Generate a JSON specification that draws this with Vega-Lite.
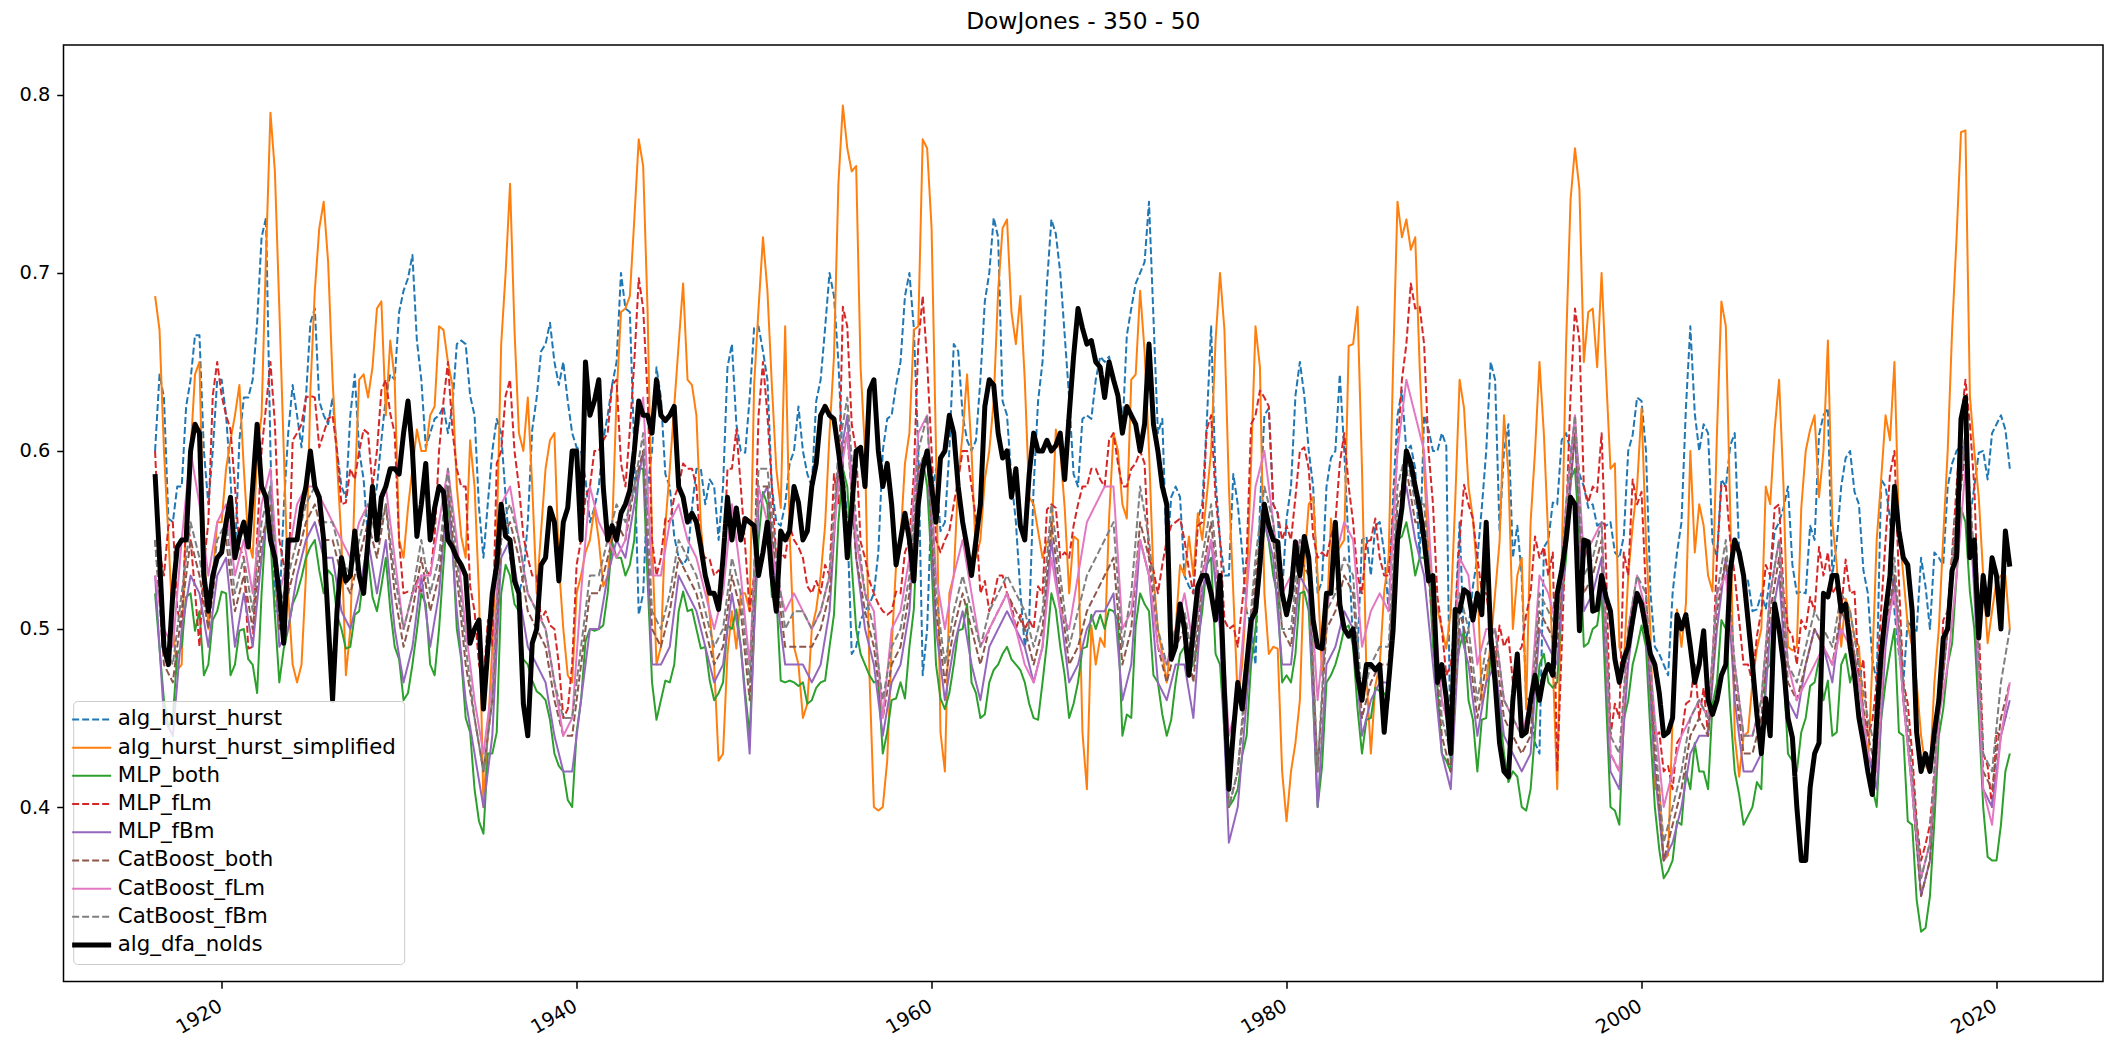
{
"$schema":"https://vega.github.io/schema/vega-lite/v6.json",
"width":2039.5,"height":936.5,
"autosize":{"type":"none"},
"padding":{"left":63.5,"top":45,"right":15,"bottom":65.5},
"background":"white",
"title":{"text":"DowJones - 350 - 50","fontSize":23.3,"font":"DejaVu Sans","fontWeight":"normal","color":"#000","offset":11,"anchor":"middle"},
"config":{"view":{"stroke":"#000","strokeWidth":1.5},"font":"DejaVu Sans"},
"data":{"values":[
{"t":1916.25,"a":0.6,"b":0.687,"c":0.52,"d":0.6,"e":0.53,"f":0.55,"g":0.53,"h":0.55,"k":0.587},
{"t":1916.75,"a":0.63,"b":0.6,"c":0.46,"d":0.53,"e":0.45,"f":0.48,"g":0.5,"h":0.49,"k":0.49},
{"t":1917.25,"a":0.56,"b":0.5,"c":0.45,"d":0.56,"e":0.44,"f":0.47,"g":0.49,"h":0.48,"k":0.52},
{"t":1917.75,"a":0.58,"b":0.48,"c":0.49,"d":0.5,"e":0.5,"f":0.51,"g":0.55,"h":0.52,"k":0.55},
{"t":1918.25,"a":0.64,"b":0.6,"c":0.52,"d":0.55,"e":0.53,"f":0.55,"g":0.6,"h":0.56,"k":0.6},
{"t":1918.75,"a":0.665,"b":0.65,"c":0.51,"d":0.49,"e":0.52,"f":0.53,"g":0.57,"h":0.54,"k":0.61},
{"t":1919.25,"a":0.57,"b":0.5,"c":0.48,"d":0.56,"e":0.49,"f":0.5,"g":0.53,"h":0.51,"k":0.51},
{"t":1919.75,"a":0.64,"b":0.56,"c":0.51,"d":0.65,"e":0.53,"f":0.54,"g":0.56,"h":0.55,"k":0.54},
{"t":1920.25,"a":0.62,"b":0.59,"c":0.52,"d":0.62,"e":0.54,"f":0.55,"g":0.57,"h":0.56,"k":0.56},
{"t":1920.75,"a":0.54,"b":0.62,"c":0.48,"d":0.58,"e":0.49,"f":0.51,"g":0.53,"h":0.52,"k":0.54},
{"t":1921.25,"a":0.63,"b":0.59,"c":0.5,"d":0.54,"e":0.52,"f":0.53,"g":0.55,"h":0.54,"k":0.56},
{"t":1921.75,"a":0.64,"b":0.54,"c":0.48,"d":0.49,"e":0.49,"f":0.5,"g":0.52,"h":0.51,"k":0.58},
{"t":1922.25,"a":0.72,"b":0.62,"c":0.52,"d":0.6,"e":0.54,"f":0.55,"g":0.57,"h":0.56,"k":0.58},
{"t":1922.75,"a":0.6,"b":0.79,"c":0.55,"d":0.65,"e":0.58,"f":0.57,"g":0.59,"h":0.58,"k":0.55},
{"t":1923.25,"a":0.51,"b":0.68,"c":0.47,"d":0.55,"e":0.49,"f":0.5,"g":0.52,"h":0.51,"k":0.52},
{"t":1923.75,"a":0.61,"b":0.52,"c":0.5,"d":0.52,"e":0.5,"f":0.52,"g":0.54,"h":0.53,"k":0.55},
{"t":1924.25,"a":0.62,"b":0.47,"c":0.52,"d":0.61,"e":0.53,"f":0.54,"g":0.57,"h":0.55,"k":0.55},
{"t":1924.75,"a":0.63,"b":0.53,"c":0.54,"d":0.63,"e":0.55,"f":0.56,"g":0.58,"h":0.57,"k":0.58},
{"t":1925.25,"a":0.68,"b":0.69,"c":0.55,"d":0.63,"e":0.56,"f":0.57,"g":0.58,"h":0.58,"k":0.58},
{"t":1925.75,"a":0.62,"b":0.74,"c":0.52,"d":0.61,"e":0.54,"f":0.55,"g":0.57,"h":0.56,"k":0.55},
{"t":1926.25,"a":0.63,"b":0.64,"c":0.53,"d":0.62,"e":0.54,"f":0.55,"g":0.56,"h":0.56,"k":0.46},
{"t":1926.75,"a":0.58,"b":0.55,"c":0.5,"d":0.57,"e":0.51,"f":0.53,"g":0.55,"h":0.54,"k":0.54},
{"t":1927.25,"a":0.62,"b":0.5,"c":0.49,"d":0.59,"e":0.5,"f":0.52,"g":0.54,"h":0.53,"k":0.53},
{"t":1927.75,"a":0.6,"b":0.64,"c":0.51,"d":0.6,"e":0.52,"f":0.54,"g":0.56,"h":0.55,"k":0.53},
{"t":1928.25,"a":0.55,"b":0.63,"c":0.54,"d":0.61,"e":0.55,"f":0.56,"g":0.57,"h":0.57,"k":0.55},
{"t":1928.75,"a":0.58,"b":0.68,"c":0.51,"d":0.6,"e":0.52,"f":0.54,"g":0.56,"h":0.55,"k":0.55},
{"t":1929.25,"a":0.63,"b":0.62,"c":0.54,"d":0.64,"e":0.55,"f":0.57,"g":0.58,"h":0.57,"k":0.58},
{"t":1929.75,"a":0.64,"b":0.64,"c":0.49,"d":0.61,"e":0.5,"f":0.52,"g":0.54,"h":0.53,"k":0.59},
{"t":1930.25,"a":0.69,"b":0.54,"c":0.46,"d":0.52,"e":0.47,"f":0.49,"g":0.5,"h":0.5,"k":0.61},
{"t":1930.75,"a":0.71,"b":0.59,"c":0.48,"d":0.52,"e":0.49,"f":0.51,"g":0.52,"h":0.52,"k":0.6},
{"t":1931.25,"a":0.64,"b":0.6,"c":0.52,"d":0.52,"e":0.53,"f":0.54,"g":0.53,"h":0.55,"k":0.57},
{"t":1931.75,"a":0.61,"b":0.62,"c":0.48,"d":0.53,"e":0.49,"f":0.51,"g":0.53,"h":0.52,"k":0.55},
{"t":1932.25,"a":0.62,"b":0.67,"c":0.5,"d":0.6,"e":0.52,"f":0.53,"g":0.56,"h":0.54,"k":0.58},
{"t":1932.75,"a":0.61,"b":0.65,"c":0.57,"d":0.65,"e":0.58,"f":0.58,"g":0.59,"h":0.59,"k":0.55},
{"t":1933.25,"a":0.66,"b":0.58,"c":0.5,"d":0.59,"e":0.51,"f":0.53,"g":0.55,"h":0.54,"k":0.54},
{"t":1933.75,"a":0.66,"b":0.54,"c":0.45,"d":0.58,"e":0.46,"f":0.48,"g":0.5,"h":0.49,"k":0.53},
{"t":1934.25,"a":0.62,"b":0.58,"c":0.41,"d":0.51,"e":0.43,"f":0.45,"g":0.46,"h":0.45,"k":0.5},
{"t":1934.75,"a":0.54,"b":0.4,"c":0.385,"d":0.47,"e":0.4,"f":0.42,"g":0.43,"h":0.42,"k":0.455},
{"t":1935.25,"a":0.6,"b":0.49,"c":0.43,"d":0.49,"e":0.44,"f":0.46,"g":0.47,"h":0.46,"k":0.52},
{"t":1935.75,"a":0.61,"b":0.66,"c":0.52,"d":0.6,"e":0.54,"f":0.55,"g":0.57,"h":0.56,"k":0.57},
{"t":1936.25,"a":0.54,"b":0.75,"c":0.53,"d":0.64,"e":0.55,"f":0.56,"g":0.58,"h":0.57,"k":0.55},
{"t":1936.75,"a":0.52,"b":0.61,"c":0.51,"d":0.58,"e":0.52,"f":0.54,"g":0.55,"h":0.55,"k":0.52},
{"t":1937.25,"a":0.56,"b":0.63,"c":0.48,"d":0.54,"e":0.49,"f":0.51,"g":0.52,"h":0.52,"k":0.44},
{"t":1937.75,"a":0.63,"b":0.52,"c":0.465,"d":0.53,"e":0.48,"f":0.5,"g":0.51,"h":0.51,"k":0.5},
{"t":1938.25,"a":0.66,"b":0.59,"c":0.46,"d":0.51,"e":0.47,"f":0.49,"g":0.5,"h":0.5,"k":0.54},
{"t":1938.75,"a":0.65,"b":0.61,"c":0.43,"d":0.5,"e":0.44,"f":0.46,"g":0.47,"h":0.47,"k":0.56},
{"t":1939.25,"a":0.65,"b":0.5,"c":0.42,"d":0.45,"e":0.42,"f":0.44,"g":0.44,"h":0.45,"k":0.56},
{"t":1939.75,"a":0.61,"b":0.47,"c":0.4,"d":0.48,"e":0.42,"f":0.44,"g":0.45,"h":0.45,"k":0.6},
{"t":1940.25,"a":0.6,"b":0.53,"c":0.46,"d":0.55,"e":0.46,"f":0.48,"g":0.52,"h":0.49,"k":0.55},
{"t":1940.75,"a":0.56,"b":0.55,"c":0.5,"d":0.58,"e":0.5,"f":0.52,"g":0.58,"h":0.53,"k":0.62},
{"t":1941.25,"a":0.58,"b":0.55,"c":0.5,"d":0.6,"e":0.5,"f":0.52,"g":0.56,"h":0.53,"k":0.64},
{"t":1941.75,"a":0.62,"b":0.53,"c":0.52,"d":0.61,"e":0.53,"f":0.54,"g":0.55,"h":0.55,"k":0.55},
{"t":1942.25,"a":0.65,"b":0.63,"c":0.54,"d":0.64,"e":0.55,"f":0.56,"g":0.54,"h":0.57,"k":0.55},
{"t":1942.75,"a":0.68,"b":0.68,"c":0.53,"d":0.58,"e":0.54,"f":0.55,"g":0.55,"h":0.56,"k":0.57},
{"t":1943.25,"a":0.6,"b":0.73,"c":0.55,"d":0.65,"e":0.57,"f":0.58,"g":0.6,"h":0.58,"k":0.6},
{"t":1943.75,"a":0.52,"b":0.76,"c":0.59,"d":0.68,"e":0.6,"f":0.6,"g":0.63,"h":0.61,"k":0.62},
{"t":1944.25,"a":0.6,"b":0.55,"c":0.47,"d":0.55,"e":0.48,"f":0.5,"g":0.53,"h":0.51,"k":0.61},
{"t":1944.75,"a":0.63,"b":0.49,"c":0.46,"d":0.54,"e":0.48,"f":0.49,"g":0.53,"h":0.5,"k":0.62},
{"t":1945.25,"a":0.58,"b":0.59,"c":0.47,"d":0.56,"e":0.49,"f":0.51,"g":0.56,"h":0.52,"k":0.62},
{"t":1945.75,"a":0.54,"b":0.66,"c":0.51,"d":0.58,"e":0.53,"f":0.54,"g":0.57,"h":0.55,"k":0.58},
{"t":1946.25,"a":0.54,"b":0.64,"c":0.51,"d":0.59,"e":0.52,"f":0.53,"g":0.55,"h":0.54,"k":0.56},
{"t":1946.75,"a":0.59,"b":0.62,"c":0.5,"d":0.58,"e":0.51,"f":0.52,"g":0.54,"h":0.53,"k":0.56},
{"t":1947.25,"a":0.57,"b":0.53,"c":0.49,"d":0.54,"e":0.49,"f":0.5,"g":0.52,"h":0.51,"k":0.53},
{"t":1947.75,"a":0.58,"b":0.48,"c":0.46,"d":0.53,"e":0.47,"f":0.48,"g":0.5,"h":0.49,"k":0.52},
{"t":1948.25,"a":0.58,"b":0.43,"c":0.47,"d":0.53,"e":0.48,"f":0.49,"g":0.52,"h":0.5,"k":0.54},
{"t":1948.75,"a":0.66,"b":0.51,"c":0.5,"d":0.59,"e":0.52,"f":0.53,"g":0.57,"h":0.54,"k":0.55},
{"t":1949.25,"a":0.6,"b":0.52,"c":0.49,"d":0.58,"e":0.49,"f":0.51,"g":0.53,"h":0.52,"k":0.55},
{"t":1949.75,"a":0.63,"b":0.51,"c":0.44,"d":0.51,"e":0.43,"f":0.46,"g":0.48,"h":0.47,"k":0.56},
{"t":1950.25,"a":0.67,"b":0.68,"c":0.55,"d":0.62,"e":0.57,"f":0.58,"g":0.58,"h":0.59,"k":0.53},
{"t":1950.75,"a":0.64,"b":0.69,"c":0.57,"d":0.62,"e":0.58,"f":0.58,"g":0.56,"h":0.59,"k":0.56},
{"t":1951.25,"a":0.56,"b":0.59,"c":0.52,"d":0.54,"e":0.52,"f":0.53,"g":0.53,"h":0.54,"k":0.51},
{"t":1951.75,"a":0.57,"b":0.67,"c":0.47,"d":0.54,"e":0.48,"f":0.49,"g":0.51,"h":0.5,"k":0.55},
{"t":1952.25,"a":0.6,"b":0.49,"c":0.47,"d":0.55,"e":0.48,"f":0.49,"g":0.52,"h":0.51,"k":0.58},
{"t":1952.75,"a":0.6,"b":0.45,"c":0.47,"d":0.54,"e":0.48,"f":0.49,"g":0.51,"h":0.51,"k":0.55},
{"t":1953.25,"a":0.58,"b":0.5,"c":0.46,"d":0.52,"e":0.47,"f":0.49,"g":0.5,"h":0.5,"k":0.58},
{"t":1953.75,"a":0.64,"b":0.53,"c":0.47,"d":0.52,"e":0.48,"f":0.5,"g":0.51,"h":0.51,"k":0.62},
{"t":1954.25,"a":0.7,"b":0.61,"c":0.49,"d":0.53,"e":0.51,"f":0.52,"g":0.53,"h":0.53,"k":0.62},
{"t":1954.75,"a":0.65,"b":0.75,"c":0.56,"d":0.57,"e":0.59,"f":0.59,"g":0.58,"h":0.6,"k":0.6},
{"t":1955.25,"a":0.56,"b":0.77,"c":0.58,"d":0.67,"e":0.62,"f":0.61,"g":0.61,"h":0.63,"k":0.54},
{"t":1955.75,"a":0.49,"b":0.76,"c":0.5,"d":0.6,"e":0.54,"f":0.54,"g":0.55,"h":0.56,"k":0.6},
{"t":1956.25,"a":0.51,"b":0.6,"c":0.48,"d":0.54,"e":0.5,"f":0.51,"g":0.52,"h":0.52,"k":0.58},
{"t":1956.75,"a":0.52,"b":0.4,"c":0.47,"d":0.52,"e":0.48,"f":0.49,"g":0.51,"h":0.5,"k":0.64},
{"t":1957.25,"a":0.6,"b":0.4,"c":0.43,"d":0.51,"e":0.44,"f":0.45,"g":0.45,"h":0.46,"k":0.58},
{"t":1957.75,"a":0.62,"b":0.49,"c":0.46,"d":0.51,"e":0.47,"f":0.48,"g":0.5,"h":0.49,"k":0.57},
{"t":1958.25,"a":0.65,"b":0.55,"c":0.47,"d":0.52,"e":0.48,"f":0.49,"g":0.51,"h":0.5,"k":0.55},
{"t":1958.75,"a":0.7,"b":0.61,"c":0.49,"d":0.55,"e":0.51,"f":0.52,"g":0.54,"h":0.53,"k":0.55},
{"t":1959.25,"a":0.6,"b":0.67,"c":0.57,"d":0.66,"e":0.59,"f":0.59,"g":0.61,"h":0.6,"k":0.57},
{"t":1959.75,"a":0.5,"b":0.77,"c":0.58,"d":0.65,"e":0.6,"f":0.6,"g":0.62,"h":0.62,"k":0.6},
{"t":1960.25,"a":0.59,"b":0.6,"c":0.48,"d":0.55,"e":0.5,"f":0.51,"g":0.53,"h":0.52,"k":0.56},
{"t":1960.75,"a":0.56,"b":0.42,"c":0.455,"d":0.55,"e":0.46,"f":0.47,"g":0.5,"h":0.48,"k":0.6},
{"t":1961.25,"a":0.66,"b":0.53,"c":0.48,"d":0.57,"e":0.49,"f":0.5,"g":0.53,"h":0.51,"k":0.61},
{"t":1961.75,"a":0.62,"b":0.61,"c":0.5,"d":0.6,"e":0.51,"f":0.52,"g":0.55,"h":0.53,"k":0.56},
{"t":1962.25,"a":0.6,"b":0.6,"c":0.47,"d":0.58,"e":0.48,"f":0.5,"g":0.52,"h":0.51,"k":0.53},
{"t":1962.75,"a":0.64,"b":0.55,"c":0.45,"d":0.52,"e":0.46,"f":0.48,"g":0.49,"h":0.49,"k":0.57},
{"t":1963.25,"a":0.7,"b":0.6,"c":0.47,"d":0.51,"e":0.49,"f":0.5,"g":0.5,"h":0.51,"k":0.64},
{"t":1963.75,"a":0.72,"b":0.69,"c":0.48,"d":0.53,"e":0.5,"f":0.51,"g":0.51,"h":0.52,"k":0.61},
{"t":1964.25,"a":0.62,"b":0.73,"c":0.49,"d":0.52,"e":0.51,"f":0.52,"g":0.52,"h":0.53,"k":0.6},
{"t":1964.75,"a":0.56,"b":0.66,"c":0.48,"d":0.5,"e":0.5,"f":0.51,"g":0.5,"h":0.52,"k":0.59},
{"t":1965.25,"a":0.49,"b":0.64,"c":0.47,"d":0.5,"e":0.49,"f":0.5,"g":0.48,"h":0.51,"k":0.55},
{"t":1965.75,"a":0.58,"b":0.57,"c":0.45,"d":0.5,"e":0.47,"f":0.48,"g":0.47,"h":0.49,"k":0.61},
{"t":1966.25,"a":0.65,"b":0.54,"c":0.47,"d":0.52,"e":0.49,"f":0.5,"g":0.49,"h":0.51,"k":0.6},
{"t":1966.75,"a":0.73,"b":0.55,"c":0.52,"d":0.57,"e":0.55,"f":0.56,"g":0.54,"h":0.57,"k":0.6},
{"t":1967.25,"a":0.7,"b":0.6,"c":0.49,"d":0.54,"e":0.51,"f":0.52,"g":0.51,"h":0.53,"k":0.61},
{"t":1967.75,"a":0.63,"b":0.52,"c":0.45,"d":0.54,"e":0.47,"f":0.48,"g":0.5,"h":0.49,"k":0.62},
{"t":1968.25,"a":0.58,"b":0.55,"c":0.47,"d":0.57,"e":0.48,"f":0.49,"g":0.53,"h":0.51,"k":0.68},
{"t":1968.75,"a":0.62,"b":0.41,"c":0.49,"d":0.58,"e":0.5,"f":0.51,"g":0.56,"h":0.53,"k":0.66},
{"t":1969.25,"a":0.64,"b":0.48,"c":0.5,"d":0.59,"e":0.51,"f":0.52,"g":0.57,"h":0.54,"k":0.65},
{"t":1969.75,"a":0.65,"b":0.49,"c":0.5,"d":0.58,"e":0.51,"f":0.53,"g":0.58,"h":0.55,"k":0.63},
{"t":1970.25,"a":0.64,"b":0.61,"c":0.51,"d":0.61,"e":0.52,"f":0.54,"g":0.58,"h":0.56,"k":0.64},
{"t":1970.75,"a":0.61,"b":0.57,"c":0.44,"d":0.58,"e":0.46,"f":0.48,"g":0.5,"h":0.49,"k":0.61},
{"t":1971.25,"a":0.68,"b":0.64,"c":0.45,"d":0.59,"e":0.48,"f":0.5,"g":0.51,"h":0.52,"k":0.62},
{"t":1971.75,"a":0.7,"b":0.69,"c":0.52,"d":0.6,"e":0.55,"f":0.56,"g":0.55,"h":0.58,"k":0.6},
{"t":1972.25,"a":0.74,"b":0.6,"c":0.51,"d":0.54,"e":0.53,"f":0.54,"g":0.53,"h":0.55,"k":0.66},
{"t":1972.75,"a":0.61,"b":0.5,"c":0.47,"d":0.52,"e":0.47,"f":0.49,"g":0.49,"h":0.5,"k":0.6},
{"t":1973.25,"a":0.54,"b":0.47,"c":0.44,"d":0.55,"e":0.46,"f":0.47,"g":0.48,"h":0.48,"k":0.57},
{"t":1973.75,"a":0.58,"b":0.5,"c":0.47,"d":0.56,"e":0.48,"f":0.49,"g":0.5,"h":0.5,"k":0.49},
{"t":1974.25,"a":0.53,"b":0.53,"c":0.49,"d":0.55,"e":0.48,"f":0.5,"g":0.52,"h":0.51,"k":0.5},
{"t":1974.75,"a":0.52,"b":0.53,"c":0.48,"d":0.52,"e":0.45,"f":0.47,"g":0.49,"h":0.48,"k":0.5},
{"t":1975.25,"a":0.57,"b":0.55,"c":0.51,"d":0.56,"e":0.52,"f":0.53,"g":0.53,"h":0.54,"k":0.53},
{"t":1975.75,"a":0.67,"b":0.6,"c":0.54,"d":0.62,"e":0.55,"f":0.56,"g":0.55,"h":0.57,"k":0.52},
{"t":1976.25,"a":0.55,"b":0.7,"c":0.48,"d":0.55,"e":0.5,"f":0.51,"g":0.52,"h":0.52,"k":0.53},
{"t":1976.75,"a":0.53,"b":0.58,"c":0.4,"d":0.5,"e":0.38,"f":0.4,"g":0.44,"h":0.4,"k":0.41},
{"t":1977.25,"a":0.57,"b":0.46,"c":0.41,"d":0.49,"e":0.4,"f":0.42,"g":0.46,"h":0.42,"k":0.47},
{"t":1977.75,"a":0.51,"b":0.52,"c":0.44,"d":0.54,"e":0.46,"f":0.47,"g":0.52,"h":0.48,"k":0.48},
{"t":1978.25,"a":0.48,"b":0.67,"c":0.5,"d":0.62,"e":0.52,"f":0.53,"g":0.58,"h":0.54,"k":0.51},
{"t":1978.75,"a":0.62,"b":0.52,"c":0.56,"d":0.63,"e":0.56,"f":0.57,"g":0.6,"h":0.58,"k":0.57},
{"t":1979.25,"a":0.57,"b":0.49,"c":0.53,"d":0.57,"e":0.54,"f":0.55,"g":0.56,"h":0.56,"k":0.55},
{"t":1979.75,"a":0.52,"b":0.42,"c":0.47,"d":0.55,"e":0.48,"f":0.5,"g":0.52,"h":0.5,"k":0.52},
{"t":1980.25,"a":0.58,"b":0.42,"c":0.47,"d":0.55,"e":0.48,"f":0.49,"g":0.53,"h":0.5,"k":0.52},
{"t":1980.75,"a":0.65,"b":0.46,"c":0.52,"d":0.6,"e":0.53,"f":0.54,"g":0.55,"h":0.55,"k":0.53},
{"t":1981.25,"a":0.6,"b":0.57,"c":0.51,"d":0.59,"e":0.52,"f":0.53,"g":0.54,"h":0.54,"k":0.54},
{"t":1981.75,"a":0.52,"b":0.53,"c":0.4,"d":0.54,"e":0.4,"f":0.42,"g":0.46,"h":0.42,"k":0.49},
{"t":1982.25,"a":0.58,"b":0.5,"c":0.47,"d":0.54,"e":0.48,"f":0.5,"g":0.51,"h":0.51,"k":0.52},
{"t":1982.75,"a":0.6,"b":0.54,"c":0.48,"d":0.56,"e":0.49,"f":0.51,"g":0.54,"h":0.52,"k":0.56},
{"t":1983.25,"a":0.6,"b":0.55,"c":0.5,"d":0.61,"e":0.51,"f":0.53,"g":0.56,"h":0.54,"k":0.5},
{"t":1983.75,"a":0.49,"b":0.66,"c":0.49,"d":0.56,"e":0.5,"f":0.52,"g":0.55,"h":0.53,"k":0.5},
{"t":1984.25,"a":0.55,"b":0.59,"c":0.43,"d":0.52,"e":0.44,"f":0.45,"g":0.49,"h":0.46,"k":0.46},
{"t":1984.75,"a":0.53,"b":0.43,"c":0.45,"d":0.55,"e":0.46,"f":0.47,"g":0.51,"h":0.48,"k":0.48},
{"t":1985.25,"a":0.56,"b":0.48,"c":0.465,"d":0.54,"e":0.47,"f":0.48,"g":0.52,"h":0.49,"k":0.48},
{"t":1985.75,"a":0.51,"b":0.54,"c":0.46,"d":0.53,"e":0.47,"f":0.48,"g":0.51,"h":0.49,"k":0.47},
{"t":1986.25,"a":0.62,"b":0.74,"c":0.55,"d":0.6,"e":0.56,"f":0.57,"g":0.6,"h":0.58,"k":0.55},
{"t":1986.75,"a":0.6,"b":0.73,"c":0.56,"d":0.66,"e":0.58,"f":0.59,"g":0.64,"h":0.6,"k":0.6},
{"t":1987.25,"a":0.59,"b":0.72,"c":0.53,"d":0.68,"e":0.55,"f":0.56,"g":0.62,"h":0.57,"k":0.58},
{"t":1987.75,"a":0.62,"b":0.59,"c":0.54,"d":0.66,"e":0.53,"f":0.56,"g":0.6,"h":0.57,"k":0.55},
{"t":1988.25,"a":0.6,"b":0.52,"c":0.49,"d":0.57,"e":0.48,"f":0.5,"g":0.52,"h":0.51,"k":0.53},
{"t":1988.75,"a":0.61,"b":0.5,"c":0.43,"d":0.5,"e":0.43,"f":0.44,"g":0.46,"h":0.45,"k":0.48},
{"t":1989.25,"a":0.42,"b":0.51,"c":0.42,"d":0.48,"e":0.41,"f":0.42,"g":0.44,"h":0.43,"k":0.43},
{"t":1989.75,"a":0.56,"b":0.64,"c":0.49,"d":0.55,"e":0.5,"f":0.51,"g":0.54,"h":0.52,"k":0.51},
{"t":1990.25,"a":0.5,"b":0.58,"c":0.46,"d":0.57,"e":0.48,"f":0.49,"g":0.53,"h":0.5,"k":0.52},
{"t":1990.75,"a":0.54,"b":0.53,"c":0.42,"d":0.54,"e":0.44,"f":0.45,"g":0.48,"h":0.46,"k":0.52},
{"t":1991.25,"a":0.6,"b":0.47,"c":0.45,"d":0.52,"e":0.47,"f":0.48,"g":0.5,"h":0.49,"k":0.56},
{"t":1991.75,"a":0.64,"b":0.52,"c":0.47,"d":0.48,"e":0.48,"f":0.49,"g":0.5,"h":0.5,"k":0.47},
{"t":1992.25,"a":0.6,"b":0.62,"c":0.43,"d":0.49,"e":0.44,"f":0.45,"g":0.46,"h":0.46,"k":0.42},
{"t":1992.75,"a":0.54,"b":0.5,"c":0.42,"d":0.47,"e":0.43,"f":0.44,"g":0.45,"h":0.45,"k":0.46},
{"t":1993.25,"a":0.53,"b":0.54,"c":0.4,"d":0.49,"e":0.42,"f":0.43,"g":0.44,"h":0.44,"k":0.44},
{"t":1993.75,"a":0.46,"b":0.56,"c":0.41,"d":0.52,"e":0.43,"f":0.44,"g":0.46,"h":0.45,"k":0.46},
{"t":1994.25,"a":0.43,"b":0.65,"c":0.48,"d":0.54,"e":0.5,"f":0.51,"g":0.53,"h":0.52,"k":0.46},
{"t":1994.75,"a":0.55,"b":0.55,"c":0.47,"d":0.53,"e":0.49,"f":0.5,"g":0.52,"h":0.51,"k":0.48},
{"t":1995.25,"a":0.57,"b":0.41,"c":0.47,"d":0.42,"e":0.48,"f":0.49,"g":0.5,"h":0.5,"k":0.52},
{"t":1995.75,"a":0.61,"b":0.66,"c":0.54,"d":0.56,"e":0.55,"f":0.56,"g":0.57,"h":0.57,"k":0.55},
{"t":1996.25,"a":0.61,"b":0.77,"c":0.59,"d":0.68,"e":0.61,"f":0.61,"g":0.62,"h":0.62,"k":0.57},
{"t":1996.75,"a":0.58,"b":0.65,"c":0.49,"d":0.58,"e":0.51,"f":0.52,"g":0.54,"h":0.53,"k":0.55},
{"t":1997.25,"a":0.57,"b":0.68,"c":0.5,"d":0.58,"e":0.52,"f":0.53,"g":0.55,"h":0.54,"k":0.51},
{"t":1997.75,"a":0.56,"b":0.7,"c":0.52,"d":0.61,"e":0.54,"f":0.55,"g":0.56,"h":0.56,"k":0.53},
{"t":1998.25,"a":0.56,"b":0.59,"c":0.4,"d":0.44,"e":0.42,"f":0.43,"g":0.43,"h":0.44,"k":0.51},
{"t":1998.75,"a":0.54,"b":0.49,"c":0.39,"d":0.45,"e":0.41,"f":0.42,"g":0.42,"h":0.43,"k":0.47},
{"t":1999.25,"a":0.6,"b":0.53,"c":0.46,"d":0.53,"e":0.48,"f":0.49,"g":0.5,"h":0.5,"k":0.49},
{"t":1999.75,"a":0.63,"b":0.58,"c":0.49,"d":0.57,"e":0.52,"f":0.52,"g":0.53,"h":0.53,"k":0.52},
{"t":2000.25,"a":0.6,"b":0.55,"c":0.49,"d":0.52,"e":0.5,"f":0.51,"g":0.51,"h":0.52,"k":0.5},
{"t":2000.75,"a":0.49,"b":0.41,"c":0.4,"d":0.44,"e":0.42,"f":0.43,"g":0.45,"h":0.44,"k":0.48},
{"t":2001.25,"a":0.48,"b":0.37,"c":0.36,"d":0.42,"e":0.37,"f":0.37,"g":0.4,"h":0.38,"k":0.44},
{"t":2001.75,"a":0.52,"b":0.45,"c":0.37,"d":0.41,"e":0.38,"f":0.39,"g":0.42,"h":0.4,"k":0.45},
{"t":2002.25,"a":0.56,"b":0.49,"c":0.39,"d":0.44,"e":0.4,"f":0.41,"g":0.44,"h":0.42,"k":0.5},
{"t":2002.75,"a":0.67,"b":0.6,"c":0.41,"d":0.46,"e":0.43,"f":0.44,"g":0.45,"h":0.45,"k":0.49},
{"t":2003.25,"a":0.6,"b":0.57,"c":0.42,"d":0.45,"e":0.44,"f":0.45,"g":0.46,"h":0.46,"k":0.48},
{"t":2003.75,"a":0.61,"b":0.53,"c":0.41,"d":0.44,"e":0.44,"f":0.44,"g":0.45,"h":0.45,"k":0.46},
{"t":2004.25,"a":0.54,"b":0.61,"c":0.47,"d":0.54,"e":0.5,"f":0.51,"g":0.52,"h":0.52,"k":0.46},
{"t":2004.75,"a":0.58,"b":0.67,"c":0.5,"d":0.58,"e":0.54,"f":0.54,"g":0.53,"h":0.55,"k":0.48},
{"t":2005.25,"a":0.61,"b":0.44,"c":0.42,"d":0.53,"e":0.46,"f":0.47,"g":0.48,"h":0.48,"k":0.55},
{"t":2005.75,"a":0.53,"b":0.44,"c":0.39,"d":0.48,"e":0.42,"f":0.43,"g":0.44,"h":0.44,"k":0.53},
{"t":2006.25,"a":0.51,"b":0.47,"c":0.4,"d":0.47,"e":0.42,"f":0.43,"g":0.44,"h":0.44,"k":0.48},
{"t":2006.75,"a":0.52,"b":0.5,"c":0.41,"d":0.51,"e":0.43,"f":0.45,"g":0.46,"h":0.46,"k":0.43},
{"t":2007.25,"a":0.53,"b":0.57,"c":0.48,"d":0.53,"e":0.5,"f":0.51,"g":0.52,"h":0.52,"k":0.44},
{"t":2007.75,"a":0.56,"b":0.64,"c":0.5,"d":0.57,"e":0.53,"f":0.54,"g":0.55,"h":0.55,"k":0.5},
{"t":2008.25,"a":0.58,"b":0.49,"c":0.43,"d":0.5,"e":0.46,"f":0.47,"g":0.48,"h":0.48,"k":0.45},
{"t":2008.75,"a":0.52,"b":0.49,"c":0.42,"d":0.48,"e":0.45,"f":0.46,"g":0.46,"h":0.47,"k":0.4},
{"t":2009.25,"a":0.52,"b":0.6,"c":0.45,"d":0.5,"e":0.48,"f":0.48,"g":0.47,"h":0.49,"k":0.37},
{"t":2009.75,"a":0.55,"b":0.62,"c":0.47,"d":0.51,"e":0.5,"f":0.5,"g":0.48,"h":0.51,"k":0.43},
{"t":2010.25,"a":0.62,"b":0.6,"c":0.46,"d":0.53,"e":0.49,"f":0.49,"g":0.49,"h":0.5,"k":0.52},
{"t":2010.75,"a":0.53,"b":0.56,"c":0.44,"d":0.52,"e":0.47,"f":0.48,"g":0.48,"h":0.49,"k":0.53},
{"t":2011.25,"a":0.58,"b":0.49,"c":0.48,"d":0.51,"e":0.51,"f":0.51,"g":0.5,"h":0.52,"k":0.51},
{"t":2011.75,"a":0.6,"b":0.51,"c":0.47,"d":0.52,"e":0.5,"f":0.5,"g":0.49,"h":0.51,"k":0.49},
{"t":2012.25,"a":0.57,"b":0.49,"c":0.45,"d":0.47,"e":0.47,"f":0.47,"g":0.47,"h":0.48,"k":0.45},
{"t":2012.75,"a":0.52,"b":0.42,"c":0.42,"d":0.44,"e":0.43,"f":0.44,"g":0.43,"h":0.45,"k":0.42},
{"t":2013.25,"a":0.47,"b":0.55,"c":0.4,"d":0.47,"e":0.41,"f":0.42,"g":0.42,"h":0.43,"k":0.45},
{"t":2013.75,"a":0.58,"b":0.62,"c":0.47,"d":0.55,"e":0.49,"f":0.5,"g":0.5,"h":0.51,"k":0.51},
{"t":2014.25,"a":0.51,"b":0.65,"c":0.5,"d":0.6,"e":0.53,"f":0.53,"g":0.52,"h":0.54,"k":0.58},
{"t":2014.75,"a":0.47,"b":0.53,"c":0.44,"d":0.47,"e":0.46,"f":0.46,"g":0.46,"h":0.47,"k":0.54},
{"t":2015.25,"a":0.5,"b":0.49,"c":0.39,"d":0.43,"e":0.41,"f":0.41,"g":0.41,"h":0.42,"k":0.51},
{"t":2015.75,"a":0.54,"b":0.44,"c":0.33,"d":0.37,"e":0.35,"f":0.35,"g":0.36,"h":0.36,"k":0.42},
{"t":2016.25,"a":0.5,"b":0.42,"c":0.35,"d":0.39,"e":0.37,"f":0.37,"g":0.38,"h":0.38,"k":0.42},
{"t":2016.75,"a":0.54,"b":0.5,"c":0.44,"d":0.45,"e":0.45,"f":0.45,"g":0.45,"h":0.46,"k":0.46},
{"t":2017.25,"a":0.58,"b":0.6,"c":0.48,"d":0.51,"e":0.5,"f":0.5,"g":0.48,"h":0.51,"k":0.5},
{"t":2017.75,"a":0.6,"b":0.72,"c":0.53,"d":0.58,"e":0.56,"f":0.56,"g":0.53,"h":0.57,"k":0.54},
{"t":2018.25,"a":0.6,"b":0.78,"c":0.56,"d":0.64,"e":0.61,"f":0.6,"g":0.59,"h":0.61,"k":0.63},
{"t":2018.75,"a":0.58,"b":0.6,"c":0.5,"d":0.58,"e":0.52,"f":0.53,"g":0.54,"h":0.54,"k":0.55},
{"t":2019.25,"a":0.6,"b":0.53,"c":0.4,"d":0.43,"e":0.41,"f":0.42,"g":0.41,"h":0.43,"k":0.53},
{"t":2019.75,"a":0.61,"b":0.51,"c":0.37,"d":0.4,"e":0.4,"f":0.41,"g":0.39,"h":0.42,"k":0.54},
{"t":2020.25,"a":0.62,"b":0.53,"c":0.39,"d":0.44,"e":0.44,"f":0.45,"g":0.44,"h":0.47,"k":0.5},
{"t":2020.75,"a":0.59,"b":0.5,"c":0.43,"d":0.45,"e":0.46,"f":0.47,"g":0.47,"h":0.5,"k":0.535},
{"t":1916.5,"a":0.643,"b":0.668,"c":0.489,"d":0.543,"k":0.54},
{"t":1917.0,"a":0.562,"b":0.552,"c":0.445,"d":0.558,"k":0.48},
{"t":1917.5,"a":0.58,"b":0.477,"c":0.486,"d":0.511,"k":0.546},
{"t":1918.0,"a":0.625,"b":0.568,"c":0.518,"d":0.562,"k":0.55},
{"t":1918.5,"a":0.665,"b":0.643,"c":0.499,"d":0.521,"k":0.615},
{"t":1919.0,"a":0.6,"b":0.546,"c":0.474,"d":0.536,"k":0.53},
{"t":1919.5,"a":0.6,"b":0.53,"c":0.505,"d":0.631,"k":0.53},
{"t":1920.0,"a":0.64,"b":0.56,"c":0.521,"d":0.631,"k":0.543},
{"t":1920.5,"a":0.584,"b":0.606,"c":0.474,"d":0.612,"k":0.574},
{"t":1921.0,"a":0.606,"b":0.637,"c":0.499,"d":0.546,"k":0.552},
{"t":1921.5,"a":0.63,"b":0.55,"c":0.483,"d":0.489,"k":0.546},
{"t":1922.0,"a":0.672,"b":0.6,"c":0.464,"d":0.552,"k":0.615},
{"t":1922.5,"a":0.731,"b":0.71,"c":0.561,"d":0.625,"k":0.574},
{"t":1923.0,"a":0.51,"b":0.757,"c":0.508,"d":0.615,"k":0.54},
{"t":1923.5,"a":0.568,"b":0.6,"c":0.489,"d":0.536,"k":0.492},
{"t":1924.0,"a":0.637,"b":0.48,"c":0.514,"d":0.606,"k":0.55},
{"t":1924.5,"a":0.602,"b":0.48,"c":0.529,"d":0.615,"k":0.568},
{"t":1925.0,"a":0.672,"b":0.634,"c":0.546,"d":0.631,"k":0.6},
{"t":1925.5,"a":0.628,"b":0.725,"c":0.533,"d":0.602,"k":0.574},
{"t":1926.0,"a":0.615,"b":0.706,"c":0.533,"d":0.618,"k":0.505},
{"t":1926.5,"a":0.6,"b":0.593,"c":0.508,"d":0.6,"k":0.51},
{"t":1927.0,"a":0.574,"b":0.474,"c":0.489,"d":0.571,"k":0.527},
{"t":1927.5,"a":0.643,"b":0.58,"c":0.508,"d":0.584,"k":0.555},
{"t":1928.0,"a":0.584,"b":0.643,"c":0.53,"d":0.612,"k":0.52},
{"t":1928.5,"a":0.568,"b":0.647,"c":0.518,"d":0.58,"k":0.58},
{"t":1929.0,"a":0.606,"b":0.684,"c":0.524,"d":0.634,"k":0.574},
{"t":1929.5,"a":0.643,"b":0.662,"c":0.511,"d":0.621,"k":0.59},
{"t":1930.0,"a":0.678,"b":0.55,"c":0.483,"d":0.549,"k":0.587},
{"t":1930.5,"a":0.697,"b":0.568,"c":0.464,"d":0.521,"k":0.628},
{"t":1931.0,"a":0.662,"b":0.612,"c":0.499,"d":0.527,"k":0.552},
{"t":1931.5,"a":0.602,"b":0.6,"c":0.514,"d":0.533,"k":0.593},
{"t":1932.0,"a":0.618,"b":0.625,"c":0.474,"d":0.552,"k":0.568},
{"t":1932.5,"a":0.625,"b":0.668,"c":0.536,"d":0.628,"k":0.577},
{"t":1933.0,"a":0.625,"b":0.637,"c":0.549,"d":0.612,"k":0.546},
{"t":1933.5,"a":0.662,"b":0.552,"c":0.483,"d":0.58,"k":0.536},
{"t":1934.0,"a":0.631,"b":0.606,"c":0.442,"d":0.524,"k":0.492},
{"t":1934.5,"a":0.568,"b":0.52,"c":0.392,"d":0.48,"k":0.505},
{"t":1935.0,"a":0.571,"b":0.442,"c":0.43,"d":0.505,"k":0.489},
{"t":1935.5,"a":0.618,"b":0.552,"c":0.442,"d":0.593,"k":0.536},
{"t":1936.0,"a":0.574,"b":0.7,"c":0.536,"d":0.631,"k":0.552},
{"t":1936.5,"a":0.53,"b":0.668,"c":0.514,"d":0.6,"k":0.527},
{"t":1937.0,"a":0.53,"b":0.6,"c":0.483,"d":0.552,"k":0.458},
{"t":1937.5,"a":0.612,"b":0.58,"c":0.471,"d":0.53,"k":0.492},
{"t":1938.0,"a":0.656,"b":0.555,"c":0.463,"d":0.505,"k":0.536},
{"t":1938.5,"a":0.672,"b":0.606,"c":0.449,"d":0.502,"k":0.568},
{"t":1939.0,"a":0.637,"b":0.536,"c":0.423,"d":0.48,"k":0.527},
{"t":1939.5,"a":0.628,"b":0.474,"c":0.404,"d":0.455,"k":0.568},
{"t":1940.0,"a":0.602,"b":0.52,"c":0.442,"d":0.536,"k":0.6},
{"t":1940.5,"a":0.584,"b":0.543,"c":0.493,"d":0.574,"k":0.65},
{"t":1941.0,"a":0.568,"b":0.568,"c":0.499,"d":0.6,"k":0.628},
{"t":1941.5,"a":0.606,"b":0.524,"c":0.502,"d":0.606,"k":0.58},
{"t":1942.0,"a":0.637,"b":0.555,"c":0.549,"d":0.637,"k":0.558},
{"t":1942.5,"a":0.7,"b":0.678,"c":0.54,"d":0.593,"k":0.565},
{"t":1943.0,"a":0.678,"b":0.687,"c":0.536,"d":0.612,"k":0.578},
{"t":1943.5,"a":0.508,"b":0.775,"c":0.59,"d":0.697,"k":0.628},
{"t":1944.0,"a":0.58,"b":0.678,"c":0.527,"d":0.631,"k":0.62},
{"t":1944.5,"a":0.647,"b":0.48,"c":0.449,"d":0.53,"k":0.64},
{"t":1945.0,"a":0.587,"b":0.558,"c":0.471,"d":0.562,"k":0.617},
{"t":1945.5,"a":0.552,"b":0.625,"c":0.48,"d":0.574,"k":0.625},
{"t":1946.0,"a":0.536,"b":0.694,"c":0.521,"d":0.593,"k":0.574},
{"t":1946.5,"a":0.568,"b":0.637,"c":0.511,"d":0.59,"k":0.565},
{"t":1947.0,"a":0.59,"b":0.558,"c":0.489,"d":0.543,"k":0.546},
{"t":1947.5,"a":0.584,"b":0.508,"c":0.471,"d":0.539,"k":0.52},
{"t":1948.0,"a":0.55,"b":0.426,"c":0.464,"d":0.533,"k":0.511},
{"t":1948.5,"a":0.647,"b":0.486,"c":0.502,"d":0.59,"k":0.574},
{"t":1949.0,"a":0.615,"b":0.489,"c":0.511,"d":0.612,"k":0.568},
{"t":1949.5,"a":0.599,"b":0.52,"c":0.464,"d":0.546,"k":0.562},
{"t":1950.0,"a":0.669,"b":0.637,"c":0.499,"d":0.53,"k":0.558},
{"t":1950.5,"a":0.656,"b":0.72,"c":0.577,"d":0.65,"k":0.543},
{"t":1951.0,"a":0.58,"b":0.637,"c":0.518,"d":0.58,"k":0.53},
{"t":1951.5,"a":0.558,"b":0.568,"c":0.471,"d":0.543,"k":0.555},
{"t":1952.0,"a":0.593,"b":0.555,"c":0.471,"d":0.558,"k":0.555},
{"t":1952.5,"a":0.625,"b":0.48,"c":0.468,"d":0.546,"k":0.571},
{"t":1953.0,"a":0.587,"b":0.458,"c":0.458,"d":0.524,"k":0.555},
{"t":1953.5,"a":0.628,"b":0.511,"c":0.467,"d":0.527,"k":0.593},
{"t":1954.0,"a":0.669,"b":0.558,"c":0.471,"d":0.536,"k":0.625},
{"t":1954.5,"a":0.687,"b":0.653,"c":0.508,"d":0.587,"k":0.618},
{"t":1955.0,"a":0.593,"b":0.794,"c":0.59,"d":0.681,"k":0.58},
{"t":1955.5,"a":0.486,"b":0.757,"c":0.536,"d":0.615,"k":0.568},
{"t":1956.0,"a":0.505,"b":0.647,"c":0.486,"d":0.549,"k":0.602},
{"t":1956.5,"a":0.514,"b":0.474,"c":0.474,"d":0.527,"k":0.634},
{"t":1957.0,"a":0.543,"b":0.398,"c":0.471,"d":0.514,"k":0.6},
{"t":1957.5,"a":0.618,"b":0.426,"c":0.442,"d":0.508,"k":0.593},
{"t":1958.0,"a":0.637,"b":0.536,"c":0.461,"d":0.521,"k":0.536},
{"t":1958.5,"a":0.687,"b":0.593,"c":0.461,"d":0.543,"k":0.565},
{"t":1959.0,"a":0.669,"b":0.668,"c":0.511,"d":0.587,"k":0.527},
{"t":1959.5,"a":0.474,"b":0.775,"c":0.596,"d":0.687,"k":0.59},
{"t":1960.0,"a":0.574,"b":0.725,"c":0.536,"d":0.6,"k":0.58},
{"t":1960.5,"a":0.555,"b":0.442,"c":0.461,"d":0.543,"k":0.596},
{"t":1961.0,"a":0.6,"b":0.52,"c":0.464,"d":0.555,"k":0.62},
{"t":1961.5,"a":0.656,"b":0.584,"c":0.499,"d":0.584,"k":0.58},
{"t":1962.0,"a":0.606,"b":0.643,"c":0.514,"d":0.6,"k":0.546},
{"t":1962.5,"a":0.606,"b":0.54,"c":0.464,"d":0.562,"k":0.55},
{"t":1963.0,"a":0.684,"b":0.584,"c":0.452,"d":0.527,"k":0.625},
{"t":1963.5,"a":0.731,"b":0.628,"c":0.477,"d":0.518,"k":0.637},
{"t":1964.0,"a":0.628,"b":0.725,"c":0.486,"d":0.53,"k":0.596},
{"t":1964.5,"a":0.584,"b":0.678,"c":0.483,"d":0.514,"k":0.574},
{"t":1965.0,"a":0.521,"b":0.687,"c":0.477,"d":0.508,"k":0.558},
{"t":1965.5,"a":0.505,"b":0.574,"c":0.458,"d":0.505,"k":0.587},
{"t":1966.0,"a":0.628,"b":0.555,"c":0.449,"d":0.524,"k":0.6},
{"t":1966.5,"a":0.694,"b":0.549,"c":0.492,"d":0.567,"k":0.606},
{"t":1967.0,"a":0.722,"b":0.612,"c":0.511,"d":0.568,"k":0.603},
{"t":1967.5,"a":0.665,"b":0.568,"c":0.474,"d":0.543,"k":0.584},
{"t":1968.0,"a":0.587,"b":0.552,"c":0.458,"d":0.558,"k":0.653},
{"t":1968.5,"a":0.618,"b":0.442,"c":0.489,"d":0.58,"k":0.669},
{"t":1969.0,"a":0.618,"b":0.502,"c":0.508,"d":0.59,"k":0.662},
{"t":1969.5,"a":0.653,"b":0.495,"c":0.508,"d":0.584,"k":0.647},
{"t":1970.0,"a":0.653,"b":0.562,"c":0.511,"d":0.606,"k":0.65},
{"t":1970.5,"a":0.631,"b":0.6,"c":0.505,"d":0.593,"k":0.631},
{"t":1971.0,"a":0.665,"b":0.562,"c":0.452,"d":0.58,"k":0.625},
{"t":1971.5,"a":0.694,"b":0.643,"c":0.502,"d":0.593,"k":0.615},
{"t":1972.0,"a":0.706,"b":0.656,"c":0.514,"d":0.593,"k":0.615},
{"t":1972.5,"a":0.675,"b":0.53,"c":0.474,"d":0.533,"k":0.615},
{"t":1973.0,"a":0.618,"b":0.486,"c":0.452,"d":0.536,"k":0.58},
{"t":1973.5,"a":0.574,"b":0.495,"c":0.449,"d":0.558,"k":0.483},
{"t":1974.0,"a":0.574,"b":0.536,"c":0.486,"d":0.562,"k":0.514},
{"t":1974.5,"a":0.524,"b":0.552,"c":0.477,"d":0.533,"k":0.474},
{"t":1975.0,"a":0.562,"b":0.565,"c":0.492,"d":0.558,"k":0.524},
{"t":1975.5,"a":0.615,"b":0.574,"c":0.536,"d":0.612,"k":0.53},
{"t":1976.0,"a":0.584,"b":0.662,"c":0.486,"d":0.574,"k":0.505},
{"t":1976.5,"a":0.53,"b":0.668,"c":0.442,"d":0.505,"k":0.464},
{"t":1977.0,"a":0.587,"b":0.52,"c":0.404,"d":0.502,"k":0.442},
{"t":1977.5,"a":0.543,"b":0.48,"c":0.429,"d":0.514,"k":0.455},
{"t":1978.0,"a":0.502,"b":0.593,"c":0.48,"d":0.615,"k":0.505},
{"t":1978.5,"a":0.568,"b":0.647,"c":0.53,"d":0.634,"k":0.536},
{"t":1979.0,"a":0.624,"b":0.486,"c":0.549,"d":0.625,"k":0.558},
{"t":1979.5,"a":0.565,"b":0.489,"c":0.518,"d":0.565,"k":0.549},
{"t":1980.0,"a":0.562,"b":0.392,"c":0.474,"d":0.558,"k":0.508},
{"t":1980.5,"a":0.631,"b":0.436,"c":0.486,"d":0.574,"k":0.549},
{"t":1981.0,"a":0.631,"b":0.536,"c":0.521,"d":0.602,"k":0.552},
{"t":1981.5,"a":0.58,"b":0.574,"c":0.458,"d":0.552,"k":0.505},
{"t":1982.0,"a":0.527,"b":0.474,"c":0.423,"d":0.543,"k":0.489},
{"t":1982.5,"a":0.596,"b":0.562,"c":0.474,"d":0.552,"k":0.52},
{"t":1983.0,"a":0.643,"b":0.546,"c":0.489,"d":0.593,"k":0.514},
{"t":1983.5,"a":0.546,"b":0.659,"c":0.502,"d":0.58,"k":0.496},
{"t":1984.0,"a":0.486,"b":0.681,"c":0.455,"d":0.53,"k":0.474},
{"t":1984.5,"a":0.552,"b":0.474,"c":0.449,"d":0.549,"k":0.48},
{"t":1985.0,"a":0.558,"b":0.468,"c":0.467,"d":0.562,"k":0.477},
{"t":1985.5,"a":0.543,"b":0.521,"c":0.464,"d":0.53,"k":0.442},
{"t":1986.0,"a":0.574,"b":0.647,"c":0.505,"d":0.562,"k":0.499},
{"t":1986.5,"a":0.634,"b":0.72,"c":0.552,"d":0.64,"k":0.568},
{"t":1987.0,"a":0.603,"b":0.713,"c":0.547,"d":0.694,"k":0.593},
{"t":1987.5,"a":0.54,"b":0.647,"c":0.54,"d":0.681,"k":0.568},
{"t":1988.0,"a":0.612,"b":0.543,"c":0.54,"d":0.6,"k":0.527},
{"t":1988.5,"a":0.6,"b":0.511,"c":0.467,"d":0.518,"k":0.47},
{"t":1989.0,"a":0.603,"b":0.489,"c":0.426,"d":0.474,"k":0.461},
{"t":1989.5,"a":0.505,"b":0.571,"c":0.474,"d":0.505,"k":0.511},
{"t":1990.0,"a":0.49,"b":0.624,"c":0.499,"d":0.581,"k":0.522},
{"t":1990.5,"a":0.524,"b":0.562,"c":0.449,"d":0.562,"k":0.505},
{"t":1991.0,"a":0.568,"b":0.458,"c":0.449,"d":0.521,"k":0.508},
{"t":1991.5,"a":0.65,"b":0.492,"c":0.486,"d":0.502,"k":0.496},
{"t":1992.0,"a":0.555,"b":0.549,"c":0.455,"d":0.502,"k":0.436},
{"t":1992.5,"a":0.615,"b":0.587,"c":0.414,"d":0.496,"k":0.417},
{"t":1993.0,"a":0.558,"b":0.53,"c":0.417,"d":0.486,"k":0.486},
{"t":1993.5,"a":0.461,"b":0.455,"c":0.398,"d":0.508,"k":0.442},
{"t":1994.0,"a":0.436,"b":0.6,"c":0.442,"d":0.552,"k":0.474},
{"t":1994.5,"a":0.546,"b":0.609,"c":0.486,"d":0.546,"k":0.474},
{"t":1995.0,"a":0.571,"b":0.48,"c":0.467,"d":0.543,"k":0.474},
{"t":1995.5,"a":0.606,"b":0.536,"c":0.515,"d":0.489,"k":0.533},
{"t":1996.0,"a":0.6,"b":0.741,"c":0.584,"d":0.631,"k":0.574},
{"t":1996.5,"a":0.587,"b":0.747,"c":0.552,"d":0.662,"k":0.499},
{"t":1997.0,"a":0.568,"b":0.678,"c":0.492,"d":0.571,"k":0.549},
{"t":1997.5,"a":0.558,"b":0.647,"c":0.502,"d":0.577,"k":0.511},
{"t":1998.0,"a":0.558,"b":0.643,"c":0.461,"d":0.536,"k":0.518},
{"t":1998.5,"a":0.543,"b":0.593,"c":0.398,"d":0.458,"k":0.483},
{"t":1999.0,"a":0.552,"b":0.48,"c":0.449,"d":0.543,"k":0.483},
{"t":1999.5,"a":0.609,"b":0.558,"c":0.48,"d":0.584,"k":0.505},
{"t":2000.0,"a":0.628,"b":0.624,"c":0.502,"d":0.577,"k":0.514},
{"t":2000.5,"a":0.521,"b":0.499,"c":0.442,"d":0.474,"k":0.486},
{"t":2001.0,"a":0.486,"b":0.411,"c":0.376,"d":0.442,"k":0.464},
{"t":2001.5,"a":0.474,"b":0.373,"c":0.364,"d":0.423,"k":0.442},
{"t":2002.0,"a":0.543,"b":0.511,"c":0.392,"d":0.436,"k":0.508},
{"t":2002.5,"a":0.624,"b":0.514,"c":0.42,"d":0.458,"k":0.508},
{"t":2003.0,"a":0.621,"b":0.543,"c":0.436,"d":0.48,"k":0.47},
{"t":2003.5,"a":0.615,"b":0.558,"c":0.42,"d":0.467,"k":0.499},
{"t":2004.0,"a":0.549,"b":0.521,"c":0.458,"d":0.48,"k":0.452},
{"t":2004.5,"a":0.584,"b":0.684,"c":0.505,"d":0.581,"k":0.474},
{"t":2005.0,"a":0.603,"b":0.565,"c":0.455,"d":0.549,"k":0.533},
{"t":2005.5,"a":0.543,"b":0.417,"c":0.407,"d":0.505,"k":0.543},
{"t":2006.0,"a":0.527,"b":0.442,"c":0.395,"d":0.48,"k":0.505},
{"t":2006.5,"a":0.511,"b":0.489,"c":0.414,"d":0.496,"k":0.452},
{"t":2007.0,"a":0.511,"b":0.58,"c":0.477,"d":0.536,"k":0.461},
{"t":2007.5,"a":0.555,"b":0.612,"c":0.518,"d":0.568,"k":0.514},
{"t":2008.0,"a":0.568,"b":0.58,"c":0.477,"d":0.521,"k":0.48},
{"t":2008.5,"a":0.536,"b":0.488,"c":0.426,"d":0.496,"k":0.439},
{"t":2009.0,"a":0.521,"b":0.568,"c":0.442,"d":0.505,"k":0.37},
{"t":2009.5,"a":0.558,"b":0.612,"c":0.468,"d":0.518,"k":0.411},
{"t":2010.0,"a":0.609,"b":0.574,"c":0.483,"d":0.546,"k":0.436},
{"t":2010.5,"a":0.624,"b":0.662,"c":0.471,"d":0.543,"k":0.518},
{"t":2011.0,"a":0.549,"b":0.536,"c":0.442,"d":0.524,"k":0.53},
{"t":2011.5,"a":0.596,"b":0.517,"c":0.486,"d":0.539,"k":0.514},
{"t":2012.0,"a":0.577,"b":0.495,"c":0.48,"d":0.521,"k":0.474},
{"t":2012.5,"a":0.533,"b":0.452,"c":0.449,"d":0.483,"k":0.436},
{"t":2013.0,"a":0.483,"b":0.48,"c":0.411,"d":0.448,"k":0.407},
{"t":2013.5,"a":0.584,"b":0.584,"c":0.449,"d":0.511,"k":0.486},
{"t":2014.0,"a":0.562,"b":0.606,"c":0.486,"d":0.587,"k":0.53},
{"t":2014.5,"a":0.486,"b":0.558,"c":0.442,"d":0.527,"k":0.555},
{"t":2015.0,"a":0.505,"b":0.502,"c":0.392,"d":0.458,"k":0.536},
{"t":2015.5,"a":0.499,"b":0.47,"c":0.348,"d":0.392,"k":0.442},
{"t":2016.0,"a":0.524,"b":0.423,"c":0.332,"d":0.379,"k":0.43},
{"t":2016.5,"a":0.543,"b":0.47,"c":0.392,"d":0.42,"k":0.442},
{"t":2017.0,"a":0.536,"b":0.552,"c":0.455,"d":0.505,"k":0.495},
{"t":2017.5,"a":0.593,"b":0.668,"c":0.492,"d":0.543,"k":0.533},
{"t":2018.0,"a":0.603,"b":0.779,"c":0.568,"d":0.615,"k":0.618},
{"t":2018.5,"a":0.562,"b":0.631,"c":0.521,"d":0.615,"k":0.54},
{"t":2019.0,"a":0.599,"b":0.574,"c":0.452,"d":0.505,"k":0.495},
{"t":2019.5,"a":0.584,"b":0.492,"c":0.372,"d":0.423,"k":0.508},
{"t":2020.0,"a":0.615,"b":0.527,"c":0.37,"d":0.442,"k":0.53},
{"t":2020.5,"a":0.612,"b":0.53,"c":0.42,"d":0.451,"k":0.555}
]},
"transform":[{"fold":["a","b","c","d","e","f","g","h","k"],"as":["s","v"]},{"filter":"isValid(datum.v)"}],
"mark":{"type":"line","strokeJoin":"round","clip":true},
"encoding":{
"x":{"field":"t","type":"quantitative","scale":{"domain":[1911.09,2026.0],"nice":false,"zero":false},
"axis":{"values":[1920,1940,1960,1980,2000,2020],"format":"d","grid":false,"domain":false,"tickSize":6.8,"tickWidth":1.5,"tickColor":"#000","labelAngle":-30,"labelAlign":"right","labelBaseline":"top","labelFontSize":19.4,"labelFont":"DejaVu Sans","labelColor":"#000","labelPadding":8,"labelOffset":-6,"labelOverlap":false,"labelFlush":false,"title":null}},
"y":{"field":"v","type":"quantitative","scale":{"domain":[0.302,0.828],"nice":false,"zero":false},
"axis":{"values":[0.4,0.5,0.6,0.7,0.8],"format":".1f","grid":false,"domain":false,"tickSize":6.8,"tickWidth":1.5,"tickColor":"#000","labelFontSize":19.4,"labelFont":"DejaVu Sans","labelColor":"#000","labelPadding":6.8,"labelOverlap":false,"labelFlush":false,"title":null}},
"color":{"field":"s","type":"nominal","scale":{"domain":["a","b","c","d","e","f","g","h","k"],"range":["#1f77b4","#ff7f0e","#2ca02c","#d62728","#9467bd","#8c564b","#e377c2","#7f7f7f","#000000"]},
"legend":{"orient":"none","legendX":9.7,"legendY":656,"title":null,"labelFontSize":21.3,"labelFont":"DejaVu Sans","labelColor":"#000","labelLimit":600,"symbolType":"stroke","symbolSize":1521,"symbolStrokeWidth":2,"padding":7.8,"fillColor":"rgba(255,255,255,0.8)","strokeColor":"#cccccc","cornerRadius":4,"rowPadding":6.2,"labelOffset":15.5,
"labelExpr":"{'a':'alg_hurst_hurst','b':'alg_hurst_hurst_simplified','c':'MLP_both','d':'MLP_fLm','e':'MLP_fBm','f':'CatBoost_both','g':'CatBoost_fLm','h':'CatBoost_fBm','k':'alg_dfa_nolds'}[datum.label]",
"encode":{"symbols":{"update":{"strokeDash":{"signal":"indexof(['a','d','f','h'], datum.value) >= 0 ? [7,3] : [1,0]"},"strokeWidth":{"signal":"datum.value === 'k' ? 5 : 2"}}}}}},
"strokeDash":{"field":"s","type":"nominal","scale":{"domain":["a","b","c","d","e","f","g","h","k"],"range":[[7,3],[1,0],[1,0],[7,3],[1,0],[7,3],[1,0],[7,3],[1,0]]},"legend":null},
"strokeWidth":{"condition":{"test":"datum.s === 'k'","value":5},"value":2}
}
}
